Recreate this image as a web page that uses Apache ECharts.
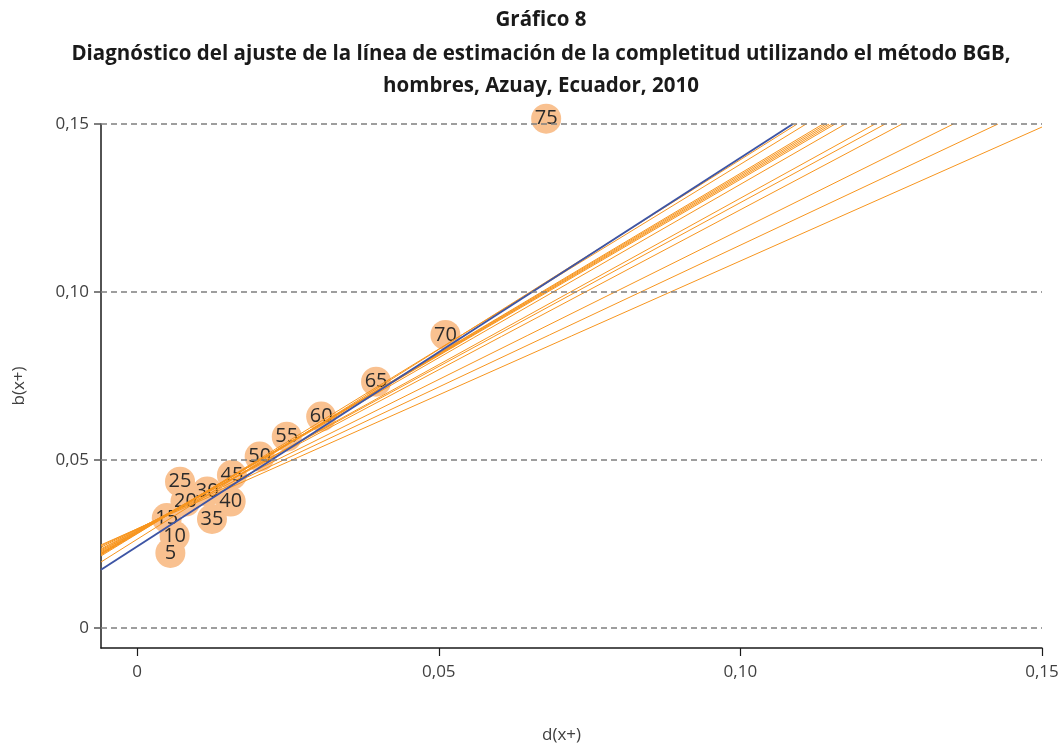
<!DOCTYPE html>
<html>
<head>
<meta charset="utf-8">
<script src="https://cdn.jsdelivr.net/npm/echarts@6/dist/echarts.min.js"></script>
<style>
  html, body { margin: 0; padding: 0; background: #fff; }
  #chart { width: 1063px; height: 746px; }
</style>
</head>
<body>
<div id="chart"></div>
<script>
// grupos de edad y coordenadas d(x+), b(x+)
const edades = [5, 10, 15, 20, 25, 30, 35, 40, 45, 50, 55, 60, 65, 70, 75]
const dx = [0.0055, 0.0062, 0.0049, 0.0080, 0.0071, 0.0116, 0.0124, 0.0155, 0.0157, 0.0203, 0.0248, 0.0305, 0.0396, 0.0511, 0.0678]
const bx = [0.0223, 0.0274, 0.0327, 0.0376, 0.0435, 0.0406, 0.0324, 0.0376, 0.0455, 0.0510, 0.0569, 0.0629, 0.0733, 0.0872, 0.1516]

// lineas de ajuste (naranja): y al inicio (x = -0,006) y punto final
const ajusteX0 = -0.006
const ajusteY0 = [0.0196, 0.0214, 0.0217, 0.0219, 0.0220, 0.0222, 0.0223, 0.0226, 0.0229, 0.0232, 0.0235, 0.0240, 0.0244, 0.0247]
const ajusteX1 = [0.1094, 0.1109, 0.1137, 0.1142, 0.1147, 0.1152, 0.1157, 0.1174, 0.1223, 0.1240, 0.1268, 0.1353, 0.1427, 0.1500]
const ajusteY1 = [0.15, 0.15, 0.15, 0.15, 0.15, 0.15, 0.15, 0.15, 0.15, 0.15, 0.15, 0.15, 0.15, 0.1491]

// linea BGB (azul)
const bgbInicio = [-0.006, 0.0173]
const bgbFin = [0.1087, 0.15]

const ticks = [0, 0.05, 0.1, 0.15]

const fmt = v => (v === 0 ? '0' : v.toFixed(2).replace('.', ','))
const fuente = "'Open Sans', sans-serif"

const chart = echarts.init(document.getElementById('chart'))

let series = []
// rejilla punteada
series.push({
  type: 'line',
  data: [],
  z: 1,
  silent: true,
  markLine: {
    silent: true,
    symbol: 'none',
    label: { show: false },
    lineStyle: { color: '#7f7f7f', width: 1.6, type: [6, 4] },
    data: ticks.map(v => ({ yAxis: v }))
  }
})
series.push({
  type: 'scatter',
  z: 2,
  clip: false,
  symbolSize: 30,
  itemStyle: { color: '#f9c190', opacity: 1 },
  label: {
    show: true,
    position: 'inside',
    color: '#2b2b2b',
    fontFamily: fuente,
    fontSize: 20,
    formatter: p => edades[p.dataIndex]
  },
  data: dx.map((x, i) => [x, bx[i]])
})
for (let i = 0; i < ajusteY0.length; i++) {
  series.push({
    type: 'line',
    z: 3,
    silent: true,
    showSymbol: false,
    lineStyle: { color: '#f7951e', width: 1 },
    data: [[ajusteX0, ajusteY0[i]], [ajusteX1[i], ajusteY1[i]]]
  })
}
series.push({
  type: 'line',
  z: 4,
  silent: true,
  showSymbol: false,
  lineStyle: { color: '#3d55a5', width: 2 },
  data: [bgbInicio, bgbFin]
})

const tituloBase = {
  left: 536,
  textAlign: 'center',
  textStyle: { fontFamily: fuente, fontWeight: 'bold', fontSize: 20.5, color: '#1a1a1a' }
}

chart.setOption({
  animation: false,
  title: [
    Object.assign({}, tituloBase, { text: 'Gráfico 8', top: 5 }),
    Object.assign({}, tituloBase, { text: 'Diagnóstico del ajuste de la línea de estimación de la completitud utilizando el método BGB,', top: 39 }),
    Object.assign({}, tituloBase, { text: 'hombres, Azuay, Ecuador, 2010', top: 71 })
  ],
  grid: { left: 101, right: 21, top: 124, bottom: 98, outerBoundsMode: 'none' },
  xAxis: {
    type: 'value',
    min: -0.006,
    max: 0.15,
    name: 'd(x+)',
    nameLocation: 'middle',
    nameGap: 79,
    nameTextStyle: { fontFamily: fuente, fontSize: 17, color: '#404040', padding: [0, 20, 0, 0] },
    splitLine: { show: false },
    axisLine: { show: true, onZero: false, lineStyle: { color: '#1a1a1a', width: 1.5 } },
    axisTick: { show: true, customValues: ticks, length: 8, lineStyle: { color: '#1a1a1a', width: 1.2 } },
    axisLabel: {
      customValues: ticks,
      formatter: fmt,
      margin: 16,
      fontFamily: fuente,
      fontSize: 17,
      color: '#404040'
    }
  },
  yAxis: {
    type: 'value',
    min: -0.006,
    max: 0.15,
    name: 'b(x+)',
    nameLocation: 'middle',
    nameGap: 73,
    nameTextStyle: { fontFamily: fuente, fontSize: 17, color: '#404040' },
    splitLine: { show: false },
    axisLine: { show: true, onZero: false, lineStyle: { color: '#1a1a1a', width: 1.5 } },
    axisTick: { show: true, customValues: ticks, length: 7, lineStyle: { color: '#555', width: 1.5 } },
    axisLabel: {
      customValues: ticks,
      formatter: fmt,
      margin: 12,
      fontFamily: fuente,
      fontSize: 17,
      color: '#404040'
    }
  },
  series: series
})
</script>
</body>
</html>
